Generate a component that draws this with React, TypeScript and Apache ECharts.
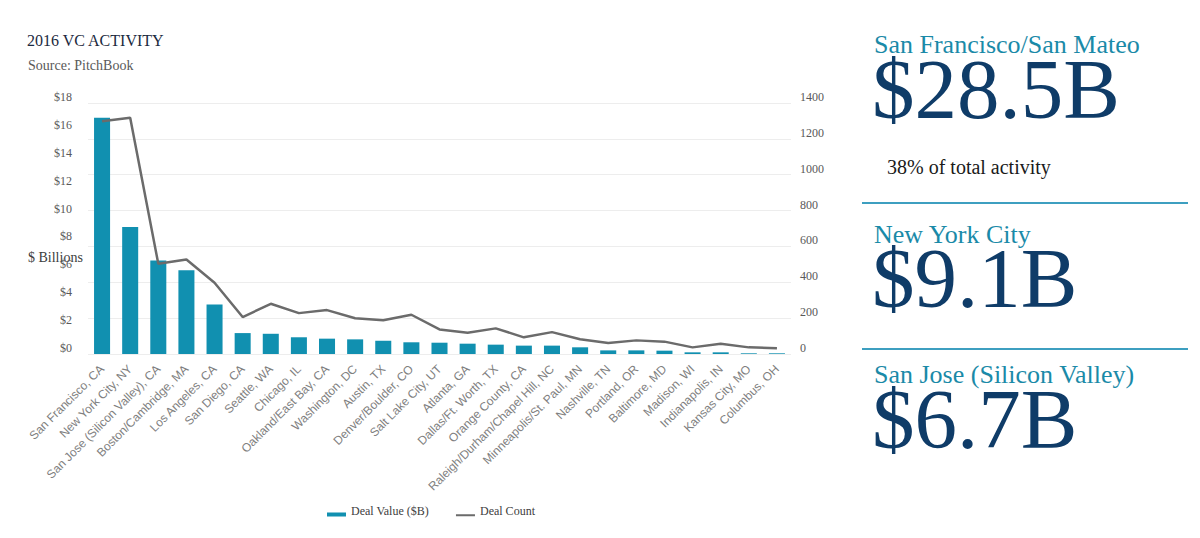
import React, { useEffect, useRef } from "react";
import * as echarts from "echarts";

// Metro areas ranked by 2016 venture deal value
const cities = [
  "San Francisco, CA",
  "New York City, NY",
  "San Jose (Silicon Valley), CA",
  "Boston/Cambridge, MA",
  "Los Angeles, CA",
  "San Diego, CA",
  "Seattle, WA",
  "Chicago, IL",
  "Oakland/East Bay, CA",
  "Washington, DC",
  "Austin, TX",
  "Denver/Boulder, CO",
  "Salt Lake City, UT",
  "Atlanta, GA",
  "Dallas/Ft. Worth, TX",
  "Orange County, CA",
  "Raleigh/Durham/Chapel Hill, NC",
  "Minneapolis/St. Paul, MN",
  "Nashville, TN",
  "Portland, OR",
  "Baltimore, MD",
  "Madison, WI",
  "Indianapolis, IN",
  "Kansas City, MO",
  "Columbus, OH",
];

// Deal value, $ billions
const dealValue = [
  16.95, 9.1, 6.7, 6.0, 3.55, 1.5, 1.45, 1.2, 1.1, 1.05, 0.95, 0.84, 0.81,
  0.74, 0.67, 0.6, 0.6, 0.48, 0.26, 0.26, 0.24, 0.12, 0.12, 0.05, 0.05,
];

// Number of deals
const dealCount = [
  1298, 1318, 503, 527, 397, 206, 280, 228, 245, 199, 188, 219, 137, 119, 143,
  93, 122, 82, 61, 76, 69, 37, 57, 37, 32,
];

const seriesNames = ["Deal Value ($B)", "Deal Count"];

// Side panel call-outs
const highlightNames = [
  "San Francisco/San Mateo",
  "New York City",
  "San Jose (Silicon Valley)",
];
const highlightValues = ["$28.5B", "$9.1B", "$6.7B"];
const highlightNote = "38% of total activity";

const TEAL = "#1190b0";
const NAVY = "#0f3c68";
const GREY_LINE = "#6b6b6b";
const SERIF = "'Liberation Serif', 'Times New Roman', serif";
const SANS = "'Liberation Sans', Arial, sans-serif";

export default function App() {
  const ref = useRef<HTMLDivElement>(null);

  useEffect(() => {
    if (!ref.current) return;
    const chart = echarts.init(ref.current, undefined, { renderer: "svg" });

    const text = (
      x: number,
      y: number,
      t: string,
      size: number,
      color: string,
      lineHeight?: number
    ) => ({
      type: "text",
      x,
      y,
      silent: true,
      style: {
        text: t,
        fontSize: size,
        fontFamily: SERIF,
        fill: color,
        verticalAlign: "middle",
        align: "left",
        lineHeight: lineHeight ?? Math.round(size * 1.15),
      },
    });

    const dividers = [203, 349].map((y) => ({
      type: "line",
      silent: true,
      shape: { x1: 862, y1: y, x2: 1188, y2: y },
      style: { stroke: "#3d9fc0", lineWidth: 2 },
    }));

    const sideLabelAxis = {
      fontFamily: SERIF,
      fontSize: 12,
      color: "#595959",
      verticalAlign: "bottom",
      lineHeight: 12,
    };

    chart.setOption({
      animation: false,
      backgroundColor: "#ffffff",
      grid: { left: 88, right: 409, top: 103, bottom: 184 },
      legend: {
        left: 322,
        top: 500,
        itemGap: 27,
        itemWidth: 19,
        itemHeight: 11,
        textStyle: { fontFamily: SERIF, fontSize: 12, color: "#404040" },
        data: [
          {
            name: seriesNames[0],
            icon: "path://M0,0L0.01,0L0.01,0.01Z M0,7L19,7L19,11L0,11Z",
            itemStyle: { color: TEAL },
          },
          {
            name: seriesNames[1],
            icon: "path://M0,0L0.01,0L0.01,0.01Z M0,8.5L19,8.5L19,10.5L0,10.5Z",
            itemStyle: { color: GREY_LINE },
            lineStyle: { width: 0 },
          },
        ],
      },
      xAxis: {
        type: "category",
        data: cities,
        axisLine: { show: false },
        axisTick: { show: false },
        axisLabel: {
          interval: 0,
          rotate: 45,
          margin: 13,
          fontFamily: SANS,
          fontSize: 12,
          color: "#808080",
        },
      },
      yAxis: [
        {
          type: "value",
          min: 0,
          max: 18,
          interval: 2,
          axisLine: { show: false },
          axisTick: { show: false },
          splitLine: { show: false },
          axisLabel: {
            ...sideLabelAxis,
            formatter: (v: number) => "$" + v,
            margin: 16,
          },
        },
        {
          type: "value",
          min: 0,
          max: 1400,
          interval: 200,
          position: "right",
          axisLine: { show: false },
          axisTick: { show: false },
          splitLine: { show: true, lineStyle: { color: "#ededed", width: 1 } },
          axisLabel: {
            ...sideLabelAxis,
            formatter: (v: number) => String(v),
            margin: 9,
          },
        },
      ],
      series: [
        {
          name: seriesNames[0],
          type: "bar",
          data: dealValue,
          yAxisIndex: 0,
          barWidth: "57%",
          itemStyle: { color: TEAL },
        },
        {
          name: seriesNames[1],
          type: "line",
          data: dealCount,
          yAxisIndex: 1,
          symbol: "none",
          itemStyle: { color: GREY_LINE },
          lineStyle: { color: GREY_LINE, width: 2.5 },
        },
      ],
      graphic: [
        text(27, 40, "2016 VC ACTIVITY", 16, "#1b2a3e"),
        text(28, 65, "Source: PitchBook", 14, "#595959"),
        text(28, 257, "$ Billions", 14, "#404040"),
        text(874, 44, highlightNames[0], 26, "#1a8aa8", 24),
        text(872, 89, highlightValues[0], 85, NAVY, 62),
        text(887, 167, highlightNote, 20, "#1a1a1a"),
        text(874, 234, highlightNames[1], 26, "#1a8aa8", 24),
        text(872, 278, highlightValues[1], 85, NAVY, 62),
        text(874, 374, highlightNames[2], 26, "#1a8aa8", 24),
        text(872, 419, highlightValues[2], 85, NAVY, 62),
        ...dividers,
      ],
    });

    return () => chart.dispose();
  }, []);

  return (
    <div
      ref={ref}
      style={{ position: "fixed", left: 0, top: 0, width: 1200, height: 538 }}
    />
  );
}
